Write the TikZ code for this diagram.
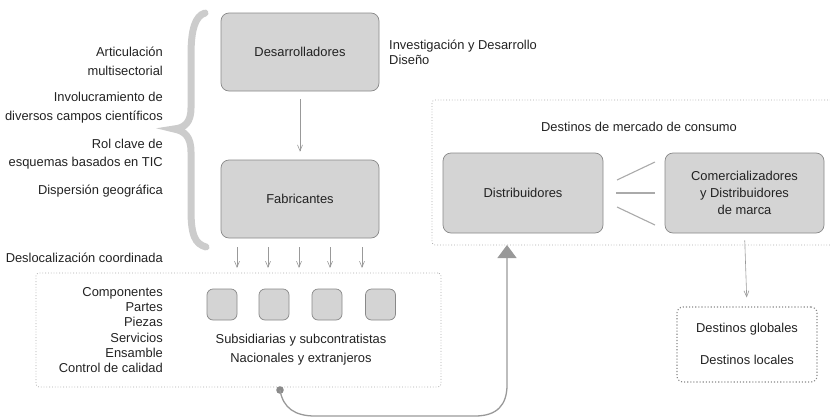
\documentclass[tikz,border=0pt]{standalone}
\usepackage{fontspec}
\setmainfont{Liberation Sans}
\usetikzlibrary{arrows.meta,calc}
\definecolor{boxfill}{HTML}{D4D4D4}
\definecolor{boxline}{HTML}{888888}
\definecolor{bracecol}{HTML}{CCCCCC}
\definecolor{dotcol}{HTML}{AAAAAA}
\definecolor{txt}{HTML}{222222}
\definecolor{arrcol}{HTML}{999999}
\begin{document}
\begin{tikzpicture}[x=1pt,y=-1pt,
  every node/.style={font=\fontsize{12.9}{15.3}\selectfont,text=txt,inner sep=0pt},
  graybox/.style={draw=boxline,fill=boxfill,rounded corners=8pt,line width=0.7pt,align=center},
  smallbox/.style={draw=boxline,fill=boxfill,rounded corners=6pt,line width=0.7pt,minimum width=30pt,minimum height=31pt},
  dotbox/.style={draw=dotcol,dotted,line width=0.8pt,rounded corners=3pt},
  lefttxt/.style={anchor=east,align=right},
  pairtxt/.style={anchor=east,align=right,font=\fontsize{12.9}{18.5}\selectfont},
  thinarrow/.style={draw=arrcol,line width=0.6pt,-{Straight Barb[length=6pt,width=5pt]}},
  link/.style={draw=dotcol,line width=1.1pt}
]
\useasboundingbox (0,0) rectangle (830,418);
\clip (0,0) rectangle (830,418);
% dotted containers
\node[dotbox,minimum width=405pt,minimum height=114pt] (sub) at (238.5,330) {};
\node[dotbox,minimum width=410pt,minimum height=145pt] (mkt) at (637,172.5) {};
\node[dotbox,draw=boxline,line width=1.1pt,rounded corners=6pt,minimum width=140pt,minimum height=75pt] (dest) at (747,344.5) {};
% main boxes
\node[graybox,minimum width=158pt,minimum height=78pt] (dev) at (300,52) {Desarrolladores};
\node[graybox,minimum width=158pt,minimum height=78pt] (fab) at (300,199) {Fabricantes};
\node[graybox,minimum width=160pt,minimum height=80pt] (dist) at (523,193) {Distribuidores};
\node[graybox,minimum width=159pt,minimum height=80pt,font=\fontsize{12.9}{17}\selectfont] (com) at (744.5,193) {Comercializadores\\y Distribuidores\\de marca};
% small squares
\node[smallbox] (s1) at (222,304.5) {};
\node[smallbox] (s2) at (274,304.5) {};
\node[smallbox] (s3) at (327,304.5) {};
\node[smallbox] (s4) at (380.5,304.5) {};
% texts
\node[anchor=west,align=left] (inv) at (389,52.5) {Investigación y Desarrollo\\Diseño};
\node[pairtxt] (t1) at (163,61.5) {Articulación\\multisectorial};
\node[pairtxt] (t2) at (163,107.5) {Involucramiento de\\diversos campos científicos};
\node[pairtxt] (t3) at (163,154) {Rol clave de\\esquemas basados en TIC};
\node[lefttxt] (t4) at (163,191) {Dispersión geográfica};
\node[lefttxt] (t5) at (163,258) {Deslocalización coordinada};
\node[lefttxt] (list) at (163,330) {Componentes\\Partes\\Piezas\\Servicios\\Ensamble\\Control de calidad};
\node[align=center,font=\fontsize{12.9}{19}\selectfont] (subt) at (301,349.5) {Subsidiarias y subcontratistas\\Nacionales y extranjeros};
\node (mktt) at (639,127) {Destinos de mercado de consumo};
\node (dg) at (747,329) {Destinos globales};
\node (dl) at (747,360) {Destinos locales};
% brace
\draw[bracecol,line width=7pt,line cap=round]
  (205,13) .. controls (195,16) and (191,30) .. (191,55) -- (191,108)
  .. controls (191,122) and (185,128) .. (174,129)
  .. controls (185,131) and (191,137) .. (191,152) -- (191,210)
  .. controls (191,235) and (195,244) .. (206,247);
% arrows
\draw[thinarrow,shorten <=8pt,shorten >=8pt] (dev) -- (fab);
\foreach \i/\x in {a/237,b/268,c/299,d/330,e/362}{
  \coordinate (f\i) at (\x,247);
  \coordinate (g\i) at (\x,268);
  \draw[thinarrow] (f\i) -- (g\i);
}
\draw[thinarrow,shorten <=7pt,shorten >=9pt] (com.south) -- (dest.north);
% links between distribuidores and comercializadores
\coordinate (l1a) at (617,180); \coordinate (l1b) at (655,162);
\coordinate (l2a) at (616,193); \coordinate (l2b) at (655,193);
\coordinate (l3a) at (617,207); \coordinate (l3b) at (655,225);
\draw[link] (l1a) -- (l1b);
\draw[link] (l2a) -- (l2b);
\draw[link] (l3a) -- (l3b);
% curve from subsidiaries to distribuidores
\coordinate (dot) at (280,390);
\coordinate (tip) at (507,245);
\fill[arrcol!90!black] (dot) circle (3.8pt);
\draw[arrcol,line width=1.3pt,-{Triangle[width=19pt,length=13pt]}]
  (dot) .. controls (283,408) and (295,416) .. (315,416) -- (475,416)
  .. controls (497,416) and (507,405) .. (507,385) -- (tip);
\end{tikzpicture}
\end{document}
